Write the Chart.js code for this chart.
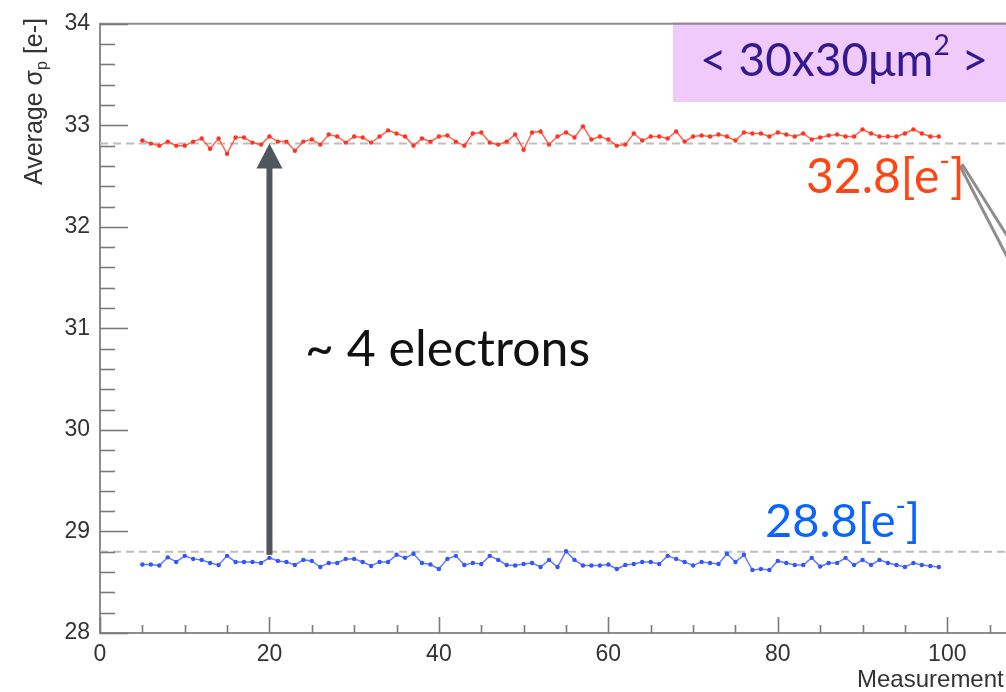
<!DOCTYPE html>
<html>
<head>
<meta charset="utf-8">
<script src="https://cdn.jsdelivr.net/npm/chart.js@4.4.1/dist/chart.umd.min.js"></script>
<style>
html, body { margin: 0; padding: 0; background: #fff; overflow: hidden; }
#wrap { width: 1040px; height: 692px; }
</style>
</head>
<body>
<div id="wrap"><canvas id="noiseChart" width="1040" height="692"></canvas></div>
<script>
// measurement index (x)
const measurement = [5,6,7,8,9,10,11,12,13,14,15,16,17,18,19,20,21,22,23,24,25,26,27,28,29,30,
  31,32,33,34,35,36,37,38,39,40,41,42,43,44,45,46,47,48,49,50,51,52,53,54,55,56,57,58,59,60,
  61,62,63,64,65,66,67,68,69,70,71,72,73,74,75,76,77,78,79,80,81,82,83,84,85,86,87,88,89,90,
  91,92,93,94,95,96,97,98,99];

// average sigma_p [e-], upper (red) series
const sigmaRed = [32.85,32.82,32.80,32.84,32.80,32.80,32.84,32.87,32.77,32.87,32.72,32.88,32.88,32.83,
  32.81,32.89,32.84,32.84,32.75,32.84,32.86,32.81,32.91,32.89,32.83,32.89,32.88,32.83,32.89,32.95,
  32.92,32.89,32.80,32.87,32.84,32.89,32.90,32.84,32.80,32.92,32.93,32.83,32.81,32.84,32.91,32.76,
  32.93,32.94,32.81,32.89,32.93,32.88,32.99,32.86,32.89,32.86,32.80,32.81,32.92,32.85,32.89,32.89,
  32.87,32.94,32.84,32.89,32.90,32.89,32.91,32.89,32.85,32.93,32.92,32.92,32.89,32.93,32.91,32.89,
  32.92,32.86,32.88,32.90,32.91,32.89,32.89,32.96,32.92,32.89,32.89,32.89,32.92,32.96,32.92,32.89,32.89];

// average sigma_p [e-], lower (blue) series
const sigmaBlue = [28.675,28.675,28.665,28.745,28.70,28.76,28.73,28.72,28.69,28.67,28.76,28.70,28.70,28.70,
  28.69,28.74,28.71,28.70,28.67,28.72,28.71,28.65,28.69,28.69,28.73,28.73,28.70,28.66,28.70,28.70,
  28.77,28.74,28.78,28.69,28.675,28.63,28.73,28.76,28.67,28.69,28.68,28.76,28.72,28.67,28.665,28.68,
  28.69,28.65,28.72,28.65,28.805,28.72,28.665,28.665,28.665,28.675,28.63,28.67,28.68,28.70,28.70,28.68,
  28.76,28.73,28.70,28.665,28.70,28.69,28.68,28.78,28.70,28.77,28.62,28.63,28.62,28.71,28.69,28.67,
  28.67,28.74,28.655,28.69,28.69,28.74,28.67,28.72,28.67,28.72,28.69,28.67,28.65,28.69,28.67,28.66,28.65];

// mean levels (dashed guides)
const guideX = [0, 110];
const redLevel = 32.82;
const blueLevel = 28.80;

// axis ranges
const xMin = 0, xMax = 110, xMajor = 20, xMinor = 5;
const yMin = 28, yMax = 34, yMajor = 1, yMinor = 0.2;

const toPoints = (xs, ys) => xs.map((v, i) => ({ x: v, y: ys[i] }));

// inward ROOT-style ticks + top frame + axis titles
const frameTicks = {
  id: 'frameTicks',
  afterDraw(chart) {
    const { ctx, chartArea: a, scales: { x, y } } = chart;
    ctx.save();
    ctx.strokeStyle = '#8c8c8c';
    ctx.lineWidth = 2;
    ctx.beginPath();
    ctx.moveTo(a.left, a.top);
    ctx.lineTo(a.right, a.top);
    ctx.stroke();
    ctx.lineWidth = 1.6;
    ctx.strokeStyle = '#7a7a7a';
    for (let v = xMin; v <= xMax + 0.001; v += xMinor) {
      const px = Math.round(x.getPixelForValue(v)) + 0.5;
      const len = Math.abs(v % xMajor) < 0.001 ? 16 : 8;
      ctx.beginPath();
      ctx.moveTo(px, a.bottom);
      ctx.lineTo(px, a.bottom - len);
      ctx.stroke();
    }
    const nY = Math.round((yMax - yMin) / yMinor);
    for (let i = 0; i <= nY; i++) {
      const v = yMin + i * yMinor;
      const py = Math.round(y.getPixelForValue(v)) + 0.5;
      const len = i % 5 === 0 ? 28 : 15;
      ctx.beginPath();
      ctx.moveTo(a.left, py);
      ctx.lineTo(a.left + len, py);
      ctx.stroke();
    }

    ctx.fillStyle = '#333';
    ctx.textBaseline = 'alphabetic';
    ctx.font = '24px "Liberation Sans", Arial, sans-serif';
    ctx.textAlign = 'left';
    ctx.fillText('Measurement', 857, 687);

    // y title: Average σ_p [e-], rotated, aligned to top
    ctx.translate(42, 18);
    ctx.rotate(-Math.PI / 2);
    const big = '25px "Liberation Sans", Arial, sans-serif';
    const small = '16px "Liberation Sans", Arial, sans-serif';
    ctx.font = big;
    const w1 = ctx.measureText('Average σ').width;
    const w3 = ctx.measureText(' [e-]').width;
    ctx.font = small;
    const w2 = ctx.measureText('p').width;
    let cx = -(w1 + w2 + w3);
    ctx.font = big;
    ctx.fillText('Average σ', cx, 0);
    cx += w1;
    ctx.font = small;
    ctx.fillText('p', cx, 5);
    cx += w2;
    ctx.font = big;
    ctx.fillText(' [e-]', cx, 0);
    ctx.restore();
  }
};

// text with superscript pieces: parts = [[text, isSup], ...]
function drawRich(ctx, parts, x, y, size, color) {
  ctx.fillStyle = color;
  ctx.textAlign = 'left';
  ctx.textBaseline = 'alphabetic';
  let cx = x;
  parts.forEach(([t, sup]) => {
    ctx.font = (sup ? Math.round(size * 0.6) : size) + 'px Lato, "Open Sans", sans-serif';
    ctx.fillText(t, cx, sup ? y - size * 0.45 : y);
    cx += ctx.measureText(t).width;
  });
}

const annotations = {
  id: 'annotations',
  afterDatasetsDraw(chart) {
    const { ctx, scales: { x, y } } = chart;
    ctx.save();

    // arrow between the two levels at measurement 20
    const ax = x.getPixelForValue(20);
    const yBase = y.getPixelForValue(blueLevel - 0.03);
    const yTip = y.getPixelForValue(redLevel);
    ctx.fillStyle = '#50565d';
    ctx.fillRect(ax - 3, yTip + 22, 6, yBase - yTip - 22);
    ctx.beginPath();
    ctx.moveTo(ax, yTip);
    ctx.lineTo(ax - 13, yTip + 25);
    ctx.lineTo(ax + 13, yTip + 25);
    ctx.closePath();
    ctx.fill();

    // callout wedge
    ctx.strokeStyle = '#8e8e8e';
    ctx.lineWidth = 3;
    ctx.beginPath();
    ctx.moveTo(960, 166);
    ctx.lineTo(1045, 330);
    ctx.moveTo(962, 164);
    ctx.lineTo(1060, 320);
    ctx.stroke();

    // pixel size box
    ctx.fillStyle = '#f0cafa';
    ctx.fillRect(673, 22, 400, 80);
    drawRich(ctx, [['< 30x30μm', false], ['2', true], [' >', false]], 700, 76, 46, '#33198f');

    drawRich(ctx, [['32.8[e', false], ['-', true], [']', false]], 806, 193, 48, '#ff4514');
    drawRich(ctx, [['28.8[e', false], ['-', true], [']', false]], 765, 537, 47, '#0a64ff');
    drawRich(ctx, [['~ 4 electrons', false]], 305, 366, 50, '#111');

    ctx.restore();
  }
};

const tickFont = { family: '"Liberation Sans", Arial, sans-serif', size: 23 };

new Chart(document.getElementById('noiseChart'), {
  type: 'line',
  data: {
    datasets: [
      {
        data: toPoints(guideX, [redLevel, redLevel]),
        borderColor: '#bdbdbd', borderWidth: 2, borderDash: [8, 5],
        pointRadius: 0, order: 3
      },
      {
        data: toPoints(guideX, [blueLevel, blueLevel]),
        borderColor: '#bdbdbd', borderWidth: 2, borderDash: [8, 5],
        pointRadius: 0, order: 3
      },
      {
        data: toPoints(measurement, sigmaRed),
        borderColor: 'rgba(255,70,50,0.85)', borderWidth: 1.5,
        pointRadius: 2.2, pointBackgroundColor: '#ff3322', pointBorderWidth: 0,
        tension: 0, order: 1
      },
      {
        data: toPoints(measurement, sigmaBlue),
        borderColor: 'rgba(70,100,255,0.85)', borderWidth: 1.5,
        pointRadius: 2.2, pointBackgroundColor: '#3355ff', pointBorderWidth: 0,
        tension: 0, order: 1
      }
    ]
  },
  options: {
    responsive: false,
    animation: false,
    devicePixelRatio: 1,
    layout: { padding: { top: 19, right: 8, left: 0, bottom: 0 } },
    plugins: { legend: { display: false }, tooltip: { enabled: false } },
    scales: {
      x: {
        type: 'linear', min: xMin, max: xMax,
        afterFit: s => { s.height = 59; },
        grid: { drawOnChartArea: false, drawTicks: false },
        border: { color: '#8c8c8c', width: 2 },
        ticks: {
          stepSize: xMajor, autoSkip: false, maxRotation: 0, padding: 8,
          color: '#333', font: tickFont,
          callback: v => (v % xMajor === 0 ? v : '')
        }
      },
      y: {
        min: yMin, max: yMax,
        afterFit: s => { s.width = 100; },
        grid: { drawOnChartArea: false, drawTicks: false },
        border: { color: '#8c8c8c', width: 2 },
        ticks: {
          stepSize: yMajor, autoSkip: false, padding: 10,
          color: '#333', font: tickFont
        }
      }
    }
  },
  plugins: [frameTicks, annotations]
});
</script>
</body>
</html>
